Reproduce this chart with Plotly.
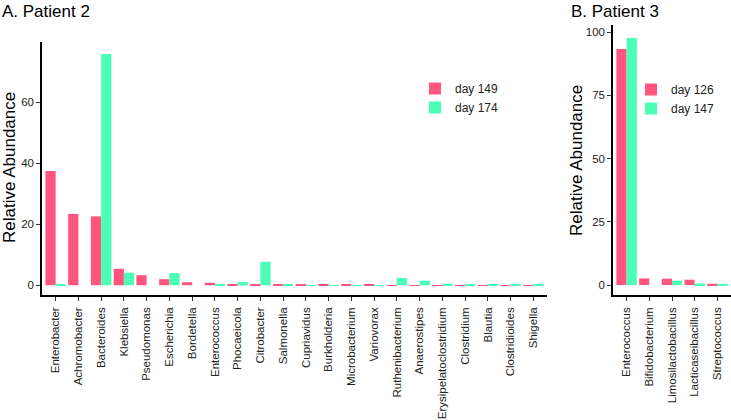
import plotly.graph_objects as go

# Panel A: Patient 2
genera_a = ["Enterobacter", "Achromobacter", "Bacteroides", "Klebsiella", "Pseudomonas",
            "Escherichia", "Bordetella", "Enterococcus", "Phocaeicola", "Citrobacter",
            "Salmonella", "Cupriavidus", "Burkholderia", "Microbacterium", "Variovorax",
            "Ruthenibacterium", "Anaerostipes", "Erysipelatoclostridium", "Clostridium",
            "Blautia", "Clostridioides", "Shigella"]
day149 = [37.5, 23.4, 22.6, 5.4, 3.3, 2.0, 1.0, 0.8, 0.4, 0.3, 0.2, 0.2, 0.2, 0.2, 0.2,
          0.08, 0.05, 0.05, 0.05, 0.05, 0.05, 0.05]
day174 = [0.1, 0.0, 75.9, 4.1, 0.0, 4.0, 0.0, 0.4, 1.1, 7.7, 0.1, 0.05, 0.05, 0.05, 0.05,
          2.4, 1.5, 0.5, 0.4, 0.2, 0.2, 0.2]

# Panel B: Patient 3
genera_b = ["Enterococcus", "Bifidobacterium", "Limosilactobacillus", "Lacticaseibacillus",
            "Streptococcus"]
day126 = [93.3, 2.6, 2.5, 2.1, 0.5]
day147 = [97.7, 0.0, 1.7, 0.6, 0.5]

PINK = "#FF5680"
GREEN = "#4BFFB6"
FONT = "Liberation Sans, Arial, Helvetica, sans-serif"
W, H = 731, 420

fig = go.Figure()
fig.add_trace(go.Bar(x=genera_a, y=day149, name="day 149", marker_color=PINK,
                     marker_line_width=0, xaxis="x", yaxis="y", legend="legend"))
fig.add_trace(go.Bar(x=genera_a, y=day174, name="day 174", marker_color=GREEN,
                     marker_line_width=0, xaxis="x", yaxis="y", legend="legend"))
fig.add_trace(go.Bar(x=genera_b, y=day126, name="day 126", marker_color=PINK,
                     marker_line_width=0, xaxis="x2", yaxis="y2", legend="legend2"))
fig.add_trace(go.Bar(x=genera_b, y=day147, name="day 147", marker_color=GREEN,
                     marker_line_width=0, xaxis="x2", yaxis="y2", legend="legend2"))

axis_common = dict(showline=True, linecolor="black", linewidth=1.5, ticks="outside",
                   ticklen=4, tickwidth=1, tickcolor="#333333", showgrid=False,
                   zeroline=False, automargin=False)
xfont = dict(family=FONT, size=11.5, color="#222222")
yfont = dict(family=FONT, size=11.5, color="#222222")

fig.update_layout(
    width=W, height=H, margin=dict(l=0, r=0, t=0, b=0),
    paper_bgcolor="white", plot_bgcolor="white",
    barmode="group", bargap=0.1, bargroupgap=0,
    font=dict(family=FONT, color="black"),
    xaxis=dict(domain=[42 / W, 547 / W], anchor="y", range=[-0.6, 21.6],
               tickangle=-90, ticklabelstandoff=2, tickfont=xfont, **axis_common),
    yaxis=dict(domain=[125 / H, 378 / H], anchor="x", range=[-3.2, 79.8],
               tickvals=[0, 20, 40, 60], tickfont=yfont, **axis_common),
    xaxis2=dict(domain=[613 / W, 1.0], anchor="y2", range=[-0.6, 4.6],
                tickangle=-90, ticklabelstandoff=2, tickfont=xfont, **axis_common),
    yaxis2=dict(domain=[125 / H, 395 / H], anchor="x2", range=[-3.95, 102.8],
                tickvals=[0, 25, 50, 75, 100], tickfont=yfont, **axis_common),
    legend=dict(x=415 / W, y=1 - 74 / H, xanchor="left", yanchor="top",
                font=dict(family=FONT, size=12, color="#222222"),
                bgcolor="rgba(0,0,0,0)", traceorder="normal"),
    legend2=dict(x=631 / W, y=1 - 75 / H, xanchor="left", yanchor="top",
                 font=dict(family=FONT, size=12, color="#222222"),
                 bgcolor="rgba(0,0,0,0)", traceorder="normal"),
    annotations=[
        dict(text="A. Patient 2", x=0, y=1.0, xref="paper", yref="paper",
             xanchor="left", yanchor="top", showarrow=False,
             font=dict(family=FONT, size=17, color="black")),
        dict(text="B. Patient 3", x=569 / W, y=1.0, xref="paper", yref="paper",
             xanchor="left", yanchor="top", showarrow=False,
             font=dict(family=FONT, size=17, color="black")),
        dict(text="Relative Abundance", x=9 / W, y=1 - 168 / H, xref="paper", yref="paper",
             xanchor="center", yanchor="middle", textangle=-90, showarrow=False,
             font=dict(family=FONT, size=17, color="black")),
        dict(text="Relative Abundance", x=576 / W, y=1 - 161 / H, xref="paper", yref="paper",
             xanchor="center", yanchor="middle", textangle=-90, showarrow=False,
             font=dict(family=FONT, size=17, color="black")),
    ],
)

fig.write_html("out.html", config={"displayModeBar": False},
               post_script="document.body.style.margin='0';")
